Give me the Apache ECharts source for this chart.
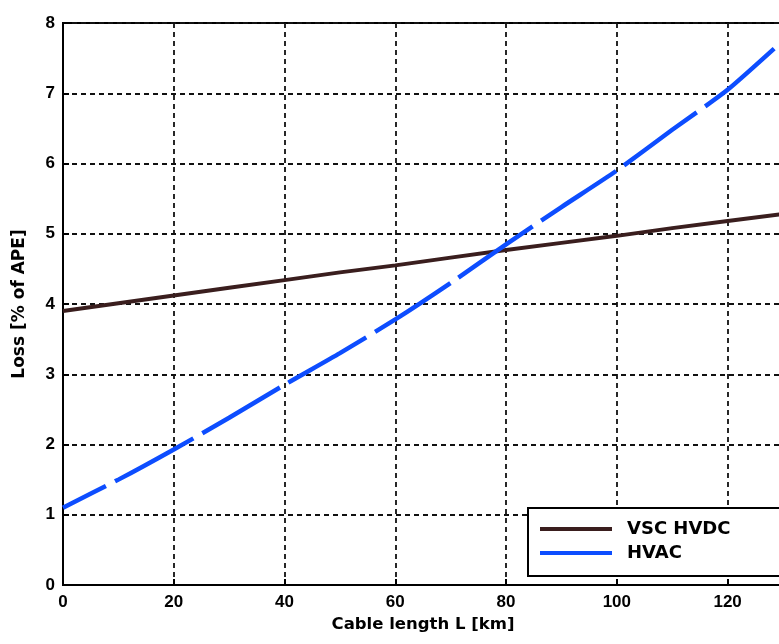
<!DOCTYPE html>
<html><head><meta charset="utf-8">
<script src="https://cdn.jsdelivr.net/npm/echarts@6/dist/echarts.min.js"></script>
<style>html,body{margin:0;padding:0;background:#fff}#c{width:779px;height:644px}</style>
</head><body><div id="c"></div>
<script>
const cableKm = [0,10,20,30,40,50,60,70,80,90,100,110,120,130];
const vscHvdc = [3.9,4.01,4.12,4.23,4.34,4.45,4.55,4.66,4.77,4.87,4.97,5.08,5.18,5.28];
const hvac    = [1.1,1.5,1.93,2.38,2.85,3.3,3.78,4.3,4.85,5.38,5.9,6.48,7.05,7.75];
const xTicks = [0,20,40,60,80,100,120];
const yTicks = [0,1,2,3,4,5,6,7,8];

const pairs = (ys) => cableKm.map((x,i)=>[x, ys[i]]);
const font = '"Liberation Sans", Arial, sans-serif';
const font2 = '"DejaVu Sans", sans-serif';
const gridLine = {show:true, lineStyle:{color:'#111', width:1.8, type:[5,4]}};

const chart = echarts.init(document.getElementById('c'), null, {renderer:'canvas'});
chart.setOption({
  backgroundColor:'#ffffff',
  animation:false,
  grid:{left:63, width:720, top:23, bottom:59, outerBoundsMode:'none', containLabel:false,
    show:true, borderColor:'#000', borderWidth:2, backgroundColor:'transparent'},
  xAxis:{
    type:'value', min:0, max:130, interval:20,
    name:'Cable length L [km]', nameLocation:'middle', nameGap:29,
    nameTextStyle:{fontFamily:font2, fontWeight:'bold', fontSize:16.5, color:'#000'},
    axisLine:{show:true, lineStyle:{color:'#000', width:2}},
    axisTick:{show:true, inside:true, length:6, lineStyle:{color:'#000', width:2}},
    axisLabel:{fontFamily:font, fontWeight:'bold', fontSize:17, color:'#000', margin:9,
      showMaxLabel:false,
      formatter:(v)=> xTicks.includes(v) ? String(v) : ''},
    splitLine:gridLine
  },
  yAxis:{
    type:'value', min:0, max:8, interval:1,
    name:'Loss [% of APE]', nameLocation:'middle', nameGap:35,
    nameTextStyle:{fontFamily:font2, fontWeight:'bold', fontSize:17, color:'#000'},
    axisLine:{show:true, lineStyle:{color:'#000', width:2}},
    axisTick:{show:true, inside:true, length:6, lineStyle:{color:'#000', width:2}},
    axisLabel:{fontFamily:font, fontWeight:'bold', fontSize:17, color:'#000', margin:8,
      formatter:(v)=> yTicks.includes(v) ? String(v) : ''},
    splitLine:gridLine
  },
  legend:{
    orient:'vertical', left:528, top:508,
    backgroundColor:'#fff', borderColor:'#000', borderWidth:2,
    padding:[12,80,14,12], itemGap:6,
    icon:'rect', itemWidth:72, itemHeight:4,
    textStyle:{fontFamily:font2, fontWeight:'bold', fontSize:18, color:'#000', padding:[0,0,0,10]},
    data:['VSC HVDC','HVAC']
  },
  series:[
    {name:'VSC HVDC', type:'line', data:pairs(vscHvdc), symbol:'none', color:'#3a1e1e',
      lineStyle:{color:'#3a1e1e', width:4}, z:3},
    {name:'HVAC', type:'line', data:pairs(hvac), symbol:'none', smooth:0.2, color:'#0d4dff',
      lineStyle:{color:'#0d4dff', width:4.5, type:[90,10], dashOffset:42}, z:4}
  ]
});
</script></body></html>
